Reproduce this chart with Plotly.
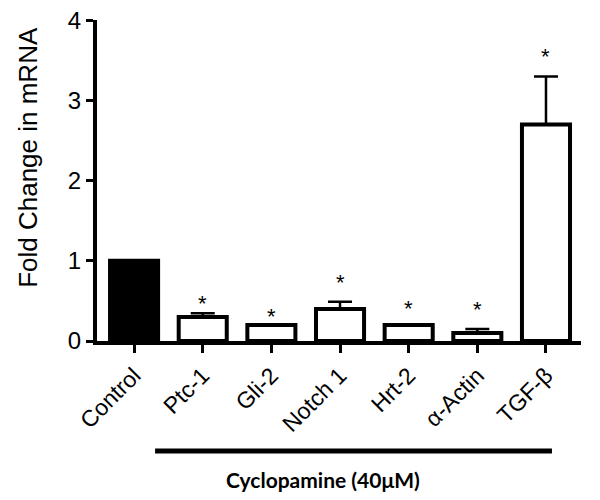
import plotly.graph_objects as go

categories = ["Control", "Ptc-1", "Gli-2", "Notch 1", "Hrt-2", "α-Actin", "TGF-β"]
values = [1.0, 0.30, 0.20, 0.40, 0.20, 0.10, 2.70]
errors = [0.0, 0.045, 0.0, 0.09, 0.0, 0.05, 0.60]
fills = ["black", "white", "white", "white", "white", "white", "white"]
star_y = [None, 0.47, 0.30, 0.73, 0.40, 0.39, 3.55]
y_ticks = [0, 1, 2, 3, 4]

fig = go.Figure()
fig.add_trace(go.Bar(
    x=categories, y=values, width=0.7,
    marker=dict(color=fills, line=dict(color="black", width=4)),
    error_y=dict(type="data", symmetric=False, array=errors,
                 arrayminus=[0]*len(errors), color="black", thickness=2.5, width=12),
))

for c, s in zip(categories, star_y):
    if s is not None:
        fig.add_annotation(x=c, y=s, text="*", showarrow=False,
                           font=dict(family="Liberation Sans, Arial", size=22, color="black"),
                           yanchor="middle")

fig.add_shape(type="line", xref="paper", yref="paper", x0=0.12, x1=0.94,
              y0=-0.343, y1=-0.343, line=dict(color="black", width=5))
fig.add_annotation(xref="paper", yref="paper", x=0.467, y=-0.433, text="<b>Cyclopamine (40μM)</b>",
                   showarrow=False, font=dict(family="Lato, Open Sans", size=21, color="black"),
                   yanchor="middle")
fig.add_annotation(xref="paper", yref="paper", x=-0.143, y=0.573, text="Fold Change in mRNA",
                   textangle=-90, showarrow=False, xanchor="center", yanchor="middle",
                   font=dict(family="Liberation Sans, Arial", size=26, color="black"))

fig.update_layout(
    width=592, height=492,
    margin=dict(l=89, r=19, t=12, b=159, autoexpand=False),
    plot_bgcolor="white", paper_bgcolor="white",
    showlegend=False,
    font=dict(family="Liberation Sans, Arial", color="black"),
    xaxis=dict(range=[-0.54, 6.51], showline=True, linecolor="black", linewidth=4,
               ticks="outside", ticklen=8, tickwidth=3, tickcolor="black",
               tickangle=-45, tickfont=dict(size=23), showgrid=False, zeroline=False,
               automargin=False),
    yaxis=dict(range=[0, 4.004], tickvals=y_ticks, showline=True, linecolor="black", linewidth=4,
               ticks="outside", ticklen=7, tickwidth=3, tickcolor="black",
               tickfont=dict(size=24), showgrid=False, zeroline=False,
               ticklabeloverflow="allow", automargin=False),
)

fig.write_html("out.html")
